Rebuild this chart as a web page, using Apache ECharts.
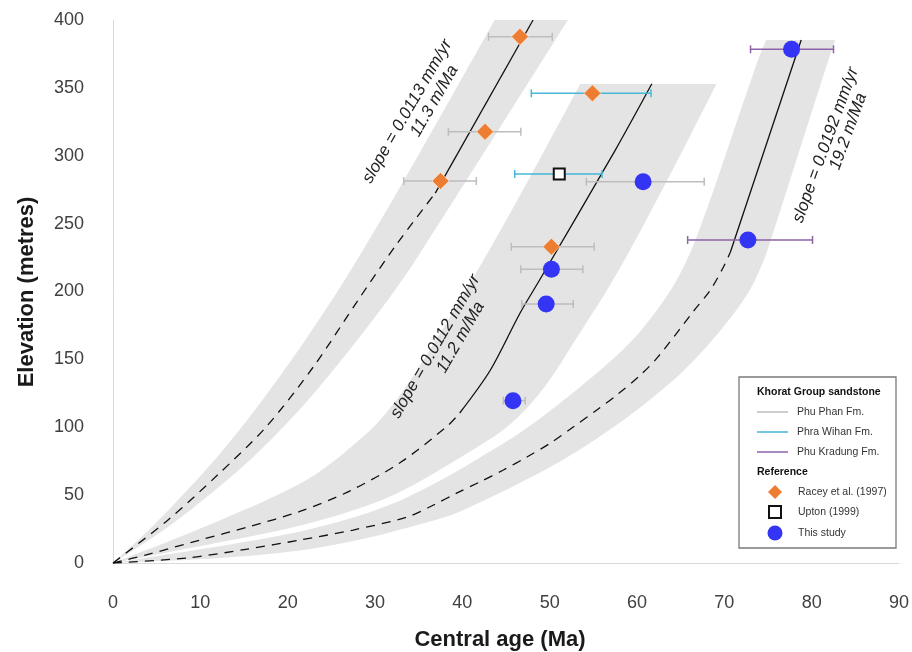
<!DOCTYPE html>
<html><head><meta charset="utf-8">
<script src="https://cdn.jsdelivr.net/npm/echarts@6/dist/echarts.min.js"></script>
<style>html,body{margin:0;padding:0;background:#fff}#c{width:912px;height:652px}</style>
</head><body><div id="c"></div>
<script>
const FONT = '"Liberation Sans", Arial, Helvetica, sans-serif';

// ---- Data ----
// Samples: [central age (Ma), elevation (m)]
const racey = [[46.6,387.7],[42.6,317.7],[37.5,281.4],[54.9,346.0],[50.2,233.0]];
const upton = [[51.1,286.6]];
const thisStudy = [[60.7,280.9],[50.2,216.4],[49.6,190.8],[45.8,119.6],[77.7,378.4],[72.7,238.0]];

// Age error bars by formation: [elevation, age low, age high]
const phuPhanErr = [[387.7,43.0,50.3],[317.7,38.4,46.7],[281.4,33.3,41.6],[233.0,45.6,55.1],
                    [280.9,54.2,67.7],[216.4,46.7,53.8],[190.8,46.8,52.7],[119.6,44.7,47.2]];
const phraWihanErr = [[346.0,47.9,61.6],[286.6,46.0,56.0]];
const phuKradungErr = [[378.4,73.0,82.5],[238.0,65.8,80.1]];

// Model bands (edges) and centre curves: [age, elevation]
const band1Upper = [[0,0],[5.4,31.7],[14.5,95.8],[24.9,190],[33.2,280],[43.7,400]];
const band1Lower = [[0,0],[7.7,31.7],[19.4,95.8],[31.7,193.7],[37.6,252.7],[52.1,400]];
const band1Dashed = [[0,0],[6.3,31.7],[12,65],[17.5,100],[23,145],[28.1,194],[32.5,235],[36.9,272.5]];
const band1Solid = [[36.9,272.5],[48.1,400]];

const band2Upper = [[0,0],[10.0,25],[21.4,57],[26,78],[31.7,110.5],[38.6,180.5],[45.1,252.7],[53.5,352.8]];
const band2Lower = [[0,0],[10.0,12.5],[21.4,26.5],[30.9,45.5],[36,63],[40.5,80.5],[45.1,99],[48.3,120.1],
                    [50.6,140],[53,165],[57.5,210],[63.5,282],[69.1,352.8]];
const band2Dashed = [[0,0],[3.8,6],[10,17],[15.7,27],[21.4,38],[27.1,53],[32.9,74],[38.3,101],[39.7,110.5]];
const band2Solid = [[39.7,110.5],[43.2,142],[46.6,184],[48.9,209],[57.5,304],[61.7,353]];

const band3Upper = [[0,0],[10.0,10.0],[21.4,22.3],[30.9,39.5],[37.5,60.5],[41.2,74.5],[47.0,97.0],
                    [52.7,125.2],[58.9,159.1],[62.2,185],[65,212],[67.5,250],[73.8,370.5],[74.8,385.3]];
const band3Lower = [[0,0],[13.7,3.7],[25.2,11.8],[38.0,33],[41.2,42],[47.0,60],[52.7,80],
                    [58.4,104.6],[64.2,134.1],[68.0,159.1],[71.0,182.7],[73.0,201.1],[74.2,218],[74.9,229],
                    [81.9,370.5],[82.7,385.3]];
const band3Dashed = [[0,0],[8.5,3.7],[15.4,10.3],[21.4,16.9],[27.5,24.3],[33.7,33.9],[36.7,42.7],[39.4,51.6],
                     [42.0,59.7],[44.7,68.5],[47.4,78.1],[50.1,88.4],[52.7,100.2],[55.4,112.7],[57.7,123.8],
                     [60.4,138.5],[62.4,151.8],[66.4,184.9],[68.4,201.1],[69.9,218.1],[70.7,229.1]];
const band3Solid = [[70.7,229.1],[78.8,385.3]];

// Slope annotations
const slopeLabels = [
  {pos:[33.7,332.6], angle:60, text:'slope = 0.0113 mm/yr'},
  {pos:[36.8,340.3], angle:60, text:'11.3 m/Ma'},
  {pos:[36.9,159.5], angle:60, text:'slope = 0.0112 mm/yr'},
  {pos:[39.8,166.1], angle:60, text:'11.2 m/Ma'},
  {pos:[81.6,307.9], angle:70, text:'slope = 0.0192 mm/yr'},
  {pos:[84.2,317.9], angle:70, text:'19.2 m/Ma'}
];

const xMin = 0, xMax = 90, xStep = 10;
const yMin = 0, yMax = 400, yStep = 50;

// ---- Styles ----
const BAND_FILL = '#e4e4e4';
const GREY = '#bdbdbd', CYAN = '#45b8d6', PURPLE = '#8d63a8';
const ORANGE = '#ed7d31', BLUE = '#3434f5';

// Corner-cutting (Chaikin) smoothing of an edge in pixel space, for drawing only
function chaikin(pts, iters) {
  let p = pts;
  for (let k = 0; k < iters; k++) {
    const out = [p[0]];
    for (let i = 0; i < p.length - 1; i++) {
      const a = p[i], b = p[i + 1];
      out.push([0.75 * a[0] + 0.25 * b[0], 0.75 * a[1] + 0.25 * b[1]]);
      out.push([0.25 * a[0] + 0.75 * b[0], 0.25 * a[1] + 0.75 * b[1]]);
    }
    out.push(p[p.length - 1]);
    p = out;
  }
  return p;
}

function bandSeries(name, upper, lower) {
  return {
    name, type: 'custom', silent: true, clip: true, z: 1,
    data: [[0, 0]], encode: {x: 0, y: 1},
    renderItem: function (params, api) {
      const up = chaikin(upper.map(p => api.coord(p)), 3);
      const lo = chaikin(lower.map(p => api.coord(p)), 3);
      return {type: 'polygon', shape: {points: up.concat(lo.reverse())},
              style: {fill: BAND_FILL}};
    }
  };
}
function curve(name, data, dashed) {
  return {
    name, type: 'line', data, symbol: 'none', showSymbol: false, smooth: 0.3,
    silent: true, z: 3, clip: true,
    lineStyle: {color: '#111', width: 1.3, type: dashed ? [9, 7] : 'solid'}
  };
}
function errSeries(name, data, color) {
  return {
    name, type: 'custom', silent: true, z: 4, data, encode: {x: [1, 2], y: 0},
    renderItem: function (params, api) {
      const y = api.value(0), lo = api.value(1), hi = api.value(2);
      const a = api.coord([lo, y]), b = api.coord([hi, y]), h = 4;
      const st = {stroke: color, lineWidth: 1.5};
      return {type: 'group', children: [
        {type: 'line', shape: {x1: a[0], y1: a[1], x2: b[0], y2: b[1]}, style: st},
        {type: 'line', shape: {x1: a[0], y1: a[1] - h, x2: a[0], y2: a[1] + h}, style: st},
        {type: 'line', shape: {x1: b[0], y1: b[1] - h, x2: b[0], y2: b[1] + h}, style: st}
      ]};
    }
  };
}

const legendX = 739, legendY = 377, legendW = 157, legendH = 171;
const lf = '10.5px ' + FONT, lfb = 'bold 10.5px ' + FONT;
function ltext(x, y, t, bold) {
  return {type: 'text', x, y, silent: true, z: 100,
    style: {text: t, font: bold ? lfb : lf, fill: bold ? '#111' : '#333',
            align: 'left', verticalAlign: 'middle', textAlign: 'left', textVerticalAlign: 'middle'}};
}
function lline(y, color) {
  return {type: 'line', silent: true, z: 100, shape: {x1: 757, y1: y, x2: 788, y2: y},
          style: {stroke: color, lineWidth: 1.5}};
}

const chart = echarts.init(document.getElementById('c'), null, {renderer: 'canvas'});
chart.setOption({
  animation: false,
  backgroundColor: '#fff',
  grid: {left: 113, right: 13, top: 20, bottom: 89},
  xAxis: {
    type: 'value', min: xMin, max: xMax, interval: xStep,
    axisLine: {show: true, lineStyle: {color: '#d9d9d9', width: 1}},
    axisTick: {show: false}, splitLine: {show: false},
    axisLabel: {fontSize: 18, fontFamily: FONT, color: '#404040', margin: 31}
  },
  yAxis: {
    type: 'value', min: yMin, max: yMax, interval: yStep,
    axisLine: {show: true, lineStyle: {color: '#d9d9d9', width: 1}},
    axisTick: {show: false}, splitLine: {show: false},
    axisLabel: {fontSize: 18, fontFamily: FONT, color: '#404040', margin: 29}
  },
  series: [
    bandSeries('band1', band1Upper, band1Lower),
    bandSeries('band2', band2Upper, band2Lower),
    bandSeries('band3', band3Upper, band3Lower),
    curve('c1d', band1Dashed, true), curve('c1s', band1Solid, false),
    curve('c2d', band2Dashed, true), curve('c2s', band2Solid, false),
    curve('c3d', band3Dashed, true), curve('c3s', band3Solid, false),
    errSeries('Phu Phan Fm.', phuPhanErr, GREY),
    errSeries('Phra Wihan Fm.', phraWihanErr, CYAN),
    errSeries('Phu Kradung Fm.', phuKradungErr, PURPLE),
    {name: 'Racey et al. (1997)', type: 'scatter', data: racey, symbol: 'diamond', symbolSize: 17, z: 5,
     itemStyle: {color: ORANGE, opacity: 1, borderColor: 'rgba(255,235,220,0.8)', borderWidth: 0.8}},
    {name: 'Upton (1999)', type: 'scatter', data: upton, symbol: 'rect', symbolSize: 11, z: 5,
     itemStyle: {color: '#fff', opacity: 1, borderColor: '#111', borderWidth: 2}},
    {name: 'This study', type: 'scatter', data: thisStudy, symbol: 'circle', symbolSize: 17, z: 5,
     itemStyle: {color: BLUE, opacity: 1}},
    {name: 'labels', type: 'custom', silent: true, z: 6, clip: false,
     data: slopeLabels.map(d => d.pos), encode: {x: 0, y: 1},
     renderItem: function (params, api) {
       const d = slopeLabels[params.dataIndex];
       const p = api.coord(d.pos);
       return {type: 'text', x: p[0], y: p[1], rotation: d.angle * Math.PI / 180,
         style: {text: d.text, font: 'italic 17px ' + FONT, fill: '#222',
                 align: 'center', verticalAlign: 'middle', textAlign: 'center', textVerticalAlign: 'middle'}};
     }}
  ],
  graphic: [
    {type: 'text', x: 27, y: 292, rotation: Math.PI / 2, silent: true,
     style: {text: 'Elevation (metres)', font: 'bold 22px ' + FONT, fill: '#1a1a1a',
             align: 'center', verticalAlign: 'middle', textAlign: 'center', textVerticalAlign: 'middle'}},
    {type: 'text', x: 500, y: 640, silent: true,
     style: {text: 'Central age (Ma)', font: 'bold 22px ' + FONT, fill: '#1a1a1a',
             align: 'center', verticalAlign: 'middle', textAlign: 'center', textVerticalAlign: 'middle'}},
    {type: 'rect', silent: true, z: 99, shape: {x: legendX, y: legendY, width: legendW, height: legendH},
     style: {fill: '#fff', stroke: '#7a7a7a', lineWidth: 1.3}},
    ltext(757, 392, 'Khorat Group sandstone', true),
    lline(412, GREY), ltext(797, 412, 'Phu Phan Fm.'),
    lline(432, CYAN), ltext(797, 432, 'Phra Wihan Fm.'),
    lline(452, PURPLE), ltext(797, 452, 'Phu Kradung Fm.'),
    ltext(757, 472, 'Reference', true),
    {type: 'polygon', silent: true, z: 100, shape: {points: [[775, 485], [782, 492], [775, 499], [768, 492]]},
     style: {fill: ORANGE}},
    ltext(798, 492, 'Racey et al. (1997)'),
    {type: 'rect', silent: true, z: 100, shape: {x: 769, y: 506, width: 12, height: 12},
     style: {fill: '#fff', stroke: '#111', lineWidth: 2}},
    ltext(798, 512, 'Upton (1999)'),
    {type: 'circle', silent: true, z: 100, shape: {cx: 775, cy: 533, r: 7.5}, style: {fill: BLUE}},
    ltext(798, 533, 'This study')
  ]
});
</script></body></html>
